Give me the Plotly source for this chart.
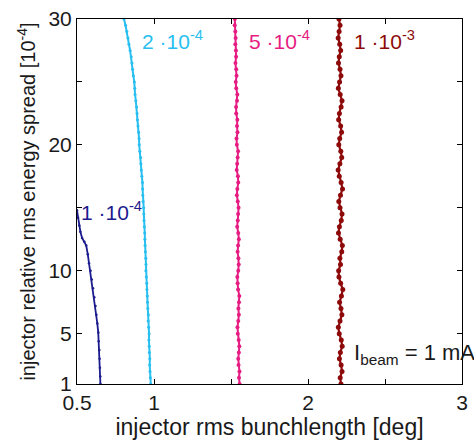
import plotly.graph_objects as go

# ---- data ----
# energy spread threshold 1e-4 (dark blue)
db_x = [0.500, 0.507, 0.515, 0.522, 0.533, 0.548, 0.560, 0.570, 0.578, 0.588, 0.596,
        0.604, 0.612, 0.620, 0.626, 0.632, 0.638, 0.641, 0.645, 0.647, 0.649, 0.651, 0.652]
db_y = [14.8, 14.2, 13.6, 13.1, 12.6, 12.3, 12.0, 11.3, 10.6, 10.0, 9.3,
        8.6, 7.9, 7.2, 6.5, 5.8, 5.1, 4.4, 3.7, 3.0, 2.3, 1.6, 1.0]

# 2e-4 (light blue)
lb_x = [0.979, 0.976, 0.974, 0.972, 0.973, 0.970, 0.969, 0.967, 0.968, 0.965, 0.962,
        0.963, 0.960, 0.958, 0.956, 0.954, 0.953, 0.950, 0.947, 0.948, 0.947,
        0.944, 0.942, 0.941, 0.940, 0.937, 0.935, 0.934, 0.933, 0.929, 0.927,
        0.926, 0.925, 0.921, 0.917, 0.915, 0.913, 0.908, 0.904, 0.903, 0.900,
        0.896, 0.892, 0.890, 0.887, 0.882, 0.877, 0.875, 0.872, 0.866, 0.861,
        0.857, 0.852, 0.845, 0.837, 0.831, 0.824, 0.815, 0.805]
lb_y = [1.0, 1.5, 2.0, 2.5, 3.0, 3.5, 4.0, 4.5, 5.0, 5.5, 6.0, 6.5, 7.0, 7.5, 8.0,
        8.5, 9.0, 9.5, 10.0, 10.5, 11.0, 11.5, 12.0, 12.5, 13.0, 13.5, 14.0, 14.5,
        15.0, 15.5, 16.0, 16.5, 17.0, 17.5, 18.0, 18.5, 19.0, 19.5, 20.0, 20.5,
        21.0, 21.5, 22.0, 22.5, 23.0, 23.5, 24.0, 24.5, 25.0, 25.5, 26.0, 26.5,
        27.0, 27.5, 28.0, 28.5, 29.0, 29.5, 30.0]

# 5e-4 (pink)
pk_y = lb_y
pk_x = [1.556, 1.552, 1.555, 1.549, 1.547, 1.551, 1.554, 1.550, 1.544, 1.542, 1.547,
        1.551, 1.548, 1.552, 1.554, 1.546, 1.543, 1.541, 1.547, 1.550, 1.548,
        1.543, 1.546, 1.551, 1.547, 1.540, 1.544, 1.546, 1.549, 1.544, 1.538,
        1.541, 1.547, 1.545, 1.537, 1.540, 1.543, 1.546, 1.538, 1.536, 1.542,
        1.539, 1.541, 1.534, 1.533, 1.539, 1.541, 1.534, 1.531, 1.536, 1.534,
        1.529, 1.533, 1.532, 1.528, 1.530, 1.528, 1.524, 1.525]

# 1e-3 (dark red)
rd_y = lb_y
rd_x = [2.214, 2.209, 2.221, 2.215, 2.204, 2.210, 2.222, 2.216, 2.203, 2.197, 2.208,
        2.220, 2.214, 2.205, 2.217, 2.226, 2.212, 2.201, 2.199, 2.211, 2.207, 2.219,
        2.223, 2.209, 2.198, 2.204, 2.216, 2.221, 2.208, 2.200, 2.211, 2.224, 2.215,
        2.203, 2.196, 2.207, 2.219, 2.213, 2.200, 2.206, 2.218, 2.212, 2.199, 2.204,
        2.215, 2.221, 2.209, 2.197, 2.205, 2.214, 2.208, 2.198, 2.203, 2.212, 2.206,
        2.196, 2.202, 2.208, 2.201]

series_names = ["1e-4", "2e-4", "5e-4", "1e-3"]
series_labels = ["1 ·10<sup>-4</sup>", "2 ·10<sup>-4</sup>", "5 ·10<sup>-4</sup>", "1 ·10<sup>-3</sup>"]
series_colors = ["#1c1c8e", "#28bff0", "#e61c82", "#8e0a0a"]
label_pos_x = [0.512, 0.908, 1.607, 2.285]
label_pos_y = [14.75, 28.3, 28.3, 28.3]

x_tickvals = [0.5, 1, 1.5, 2, 2.5, 3]
x_ticktext = ["0.5", "1", "", "2", "", "3"]
y_tickvals = [1, 5, 10, 15, 20, 25, 30]
y_ticktext = ["1", "5", "10", "", "20", "", "30"]

FONT = "Liberation Sans, Arial, sans-serif"
TXT = "#1a1a1a"

fig = go.Figure()
data = [(db_x, db_y), (lb_x, lb_y), (pk_x, pk_y), (rd_x, rd_y)]
msize = [2.5, 3, 4, 5]
lw = [1.8, 2.0, 2.0, 2.2]
for i, (xs, ys) in enumerate(data):
    fig.add_trace(go.Scatter(
        x=xs, y=ys, mode="lines+markers", name=series_names[i],
        line=dict(color=series_colors[i], width=lw[i]),
        marker=dict(color=series_colors[i], size=msize[i]),
        showlegend=False,
    ))

for i in range(4):
    fig.add_annotation(
        x=label_pos_x[i], y=label_pos_y[i], xref="x", yref="y",
        text=series_labels[i], showarrow=False, xanchor="left", yanchor="middle",
        font=dict(family=FONT, size=21, color=series_colors[i]),
    )

fig.add_annotation(
    x=2.283, y=3.4, xref="x", yref="y",
    text="I<sub>beam</sub> = 1 mA", showarrow=False, xanchor="left", yanchor="middle",
    font=dict(family=FONT, size=22, color=TXT),
)

axis_common = dict(
    showline=True, linecolor="black", linewidth=1, mirror="ticks",
    ticks="inside", ticklen=5, tickcolor="black", tickwidth=1,
    showgrid=False, zeroline=False,
    tickfont=dict(family=FONT, size=21, color=TXT),
)

fig.update_layout(
    width=474, height=443,
    margin=dict(l=77, r=6, t=19, b=59),
    paper_bgcolor="white", plot_bgcolor="white",
    xaxis=dict(range=[0.5, 3], tickvals=x_tickvals, ticktext=x_ticktext,
               title=dict(text="injector rms bunchlength [deg]",
                          font=dict(family=FONT, size=23, color=TXT), standoff=0),
               **axis_common),
    yaxis=dict(range=[1, 30], tickvals=y_tickvals, ticktext=y_ticktext,
               title=dict(text="injector relative rms energy spread [10<sup>-4</sup>]",
                          font=dict(family=FONT, size=20, color=TXT), standoff=7),
               **axis_common),
)

fig.write_html("out.html", config={"displayModeBar": False},
               post_script="document.body.style.margin='0';document.body.style.padding='0';document.body.style.overflow='hidden';")
